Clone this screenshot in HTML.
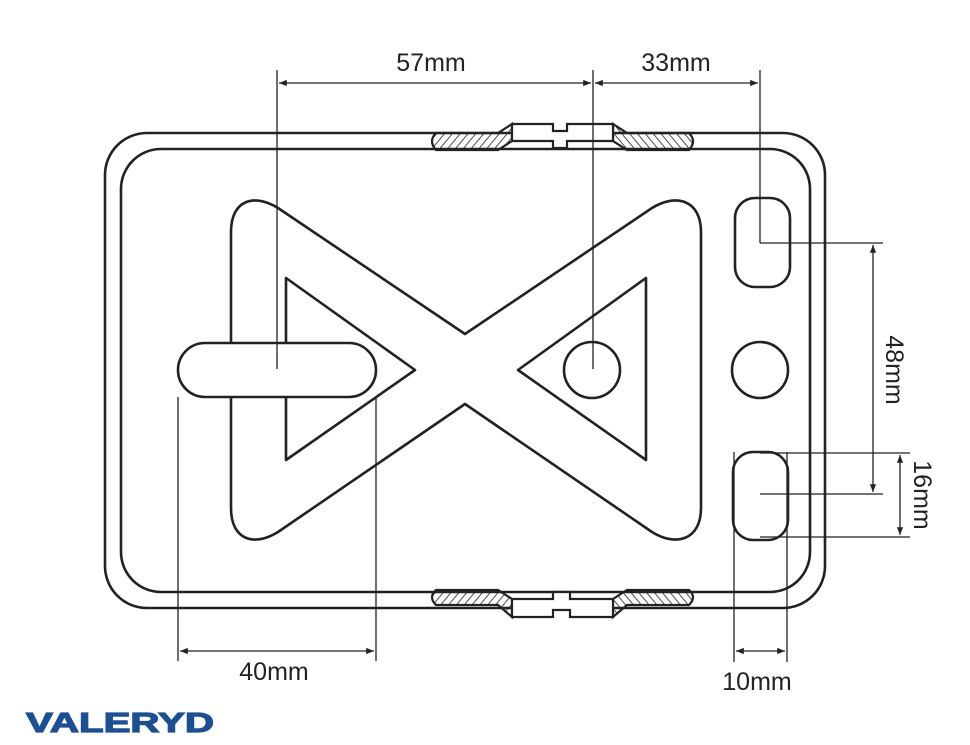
<!DOCTYPE html>
<html><head><meta charset="utf-8"><style>
html,body{margin:0;padding:0;background:#fff;}
svg{display:block}
text{font-family:"Liberation Sans",sans-serif;fill:#222}
</style></head><body>
<svg width="970" height="745" viewBox="0 0 970 745" xmlns="http://www.w3.org/2000/svg">
<defs>
<pattern id="h1" width="6" height="6" patternUnits="userSpaceOnUse" patternTransform="rotate(40)"><line x1="0" y1="0" x2="0" y2="6" stroke="#222" stroke-width="1.6"/></pattern>
<pattern id="h2" width="6" height="6" patternUnits="userSpaceOnUse" patternTransform="rotate(-40)"><line x1="0" y1="0" x2="0" y2="6" stroke="#222" stroke-width="1.6"/></pattern>
<marker id="a" viewBox="0 0 10 10" refX="10" refY="5" markerWidth="8" markerHeight="6" orient="auto-start-reverse"><path d="M0,1 L10,5 L0,9 Z" fill="#222"/></marker>
</defs>
<g fill="none" stroke="#222" stroke-width="2.6">
<rect x="105" y="133" width="720" height="475" rx="42"/>
<rect x="121" y="149" width="689" height="443" rx="40"/>
</g>
<g stroke="#222" stroke-width="2.2">
<path d="M436,133 L498,133 L512,124 L512,141 L498,150 L436,150 Q428,141 436,133 Z" fill="url(#h1)"/>
<path d="M689,133 L627,133 L613,124 L613,141 L627,150 L689,150 Q697,141 689,133 Z" fill="url(#h2)"/>
<path d="M512,124 L553,124 L553,131 L567,131 L567,124 L613,124 L613,141 L567,141 L567,148 L553,148 L553,141 L512,141 Z" fill="#fff"/>
<path d="M436,590 L498,590 L512,599 L512,617 L498,605 L436,605 Q428,597 436,590 Z" fill="url(#h1)"/>
<path d="M689,590 L627,590 L613,599 L613,617 L627,605 L689,605 Q697,597 689,590 Z" fill="url(#h2)"/>
<path d="M512,599 L553,599 L553,592 L570,592 L570,599 L613,599 L613,617 L570,617 L570,610 L553,610 L553,617 L512,617 Z" fill="#fff"/>
</g>
<g fill="none" stroke="#222" stroke-width="2.6" stroke-linejoin="round">
<path d="M465,334 L652,208 C676,193 701,200 701,232 L701,508 C701,540 676,547 652,532 L465,404 L278,532 C254,547 231,540 231,508 L231,232 C231,200 254,193 278,208 Z"/>
<path d="M286,278 L286,460 L415,370 Z"/>
<path d="M646,278 L646,460 L518,370 Z"/>
<circle cx="592" cy="370" r="28"/>
<circle cx="760" cy="370" r="28"/>
<rect x="735" y="198" width="55" height="89" rx="20"/>
<rect x="733" y="452" width="55" height="88" rx="20"/>
</g>
<rect x="178" y="343" width="198" height="54" rx="27" fill="#fff" stroke="#222" stroke-width="2.6"/>
<g stroke="#222" stroke-width="1.3" fill="none">
<line x1="277" y1="70" x2="277" y2="369"/>
<line x1="593" y1="70" x2="593" y2="369"/>
<line x1="760" y1="70" x2="760" y2="243"/>
<line x1="279" y1="83" x2="591" y2="83" marker-start="url(#a)" marker-end="url(#a)"/>
<line x1="595" y1="83" x2="758" y2="83" marker-start="url(#a)" marker-end="url(#a)"/>
<line x1="760" y1="243" x2="883" y2="243"/>
<line x1="760" y1="494" x2="883" y2="494"/>
<line x1="873" y1="245" x2="873" y2="492" marker-start="url(#a)" marker-end="url(#a)"/>
<line x1="760" y1="453" x2="910" y2="453"/>
<line x1="760" y1="537" x2="910" y2="537"/>
<line x1="900" y1="455" x2="900" y2="535" marker-start="url(#a)" marker-end="url(#a)"/>
<line x1="178" y1="397" x2="178" y2="661"/>
<line x1="376" y1="397" x2="376" y2="661"/>
<line x1="180" y1="651" x2="374" y2="651" marker-start="url(#a)" marker-end="url(#a)"/>
<line x1="734" y1="452" x2="734" y2="662"/>
<line x1="787" y1="452" x2="787" y2="662"/>
<line x1="736" y1="651" x2="785" y2="651" marker-start="url(#a)" marker-end="url(#a)"/>
</g>
<text x="431" y="71" font-size="25" text-anchor="middle">57mm</text>
<text x="676" y="71" font-size="25" text-anchor="middle">33mm</text>
<text x="274" y="680" font-size="25" text-anchor="middle">40mm</text>
<text x="757" y="690" font-size="25" text-anchor="middle">10mm</text>
<text font-size="25" text-anchor="middle" transform="translate(886,370) rotate(90)">48mm</text>
<text font-size="25" text-anchor="middle" transform="translate(914,495) rotate(90)">16mm</text>
<text x="26" y="732" font-size="28" font-weight="bold" style="fill:#1d4f93;stroke:#1d4f93;stroke-width:1.2" textLength="188" lengthAdjust="spacingAndGlyphs">VALERYD</text>
</svg>
</body></html>
